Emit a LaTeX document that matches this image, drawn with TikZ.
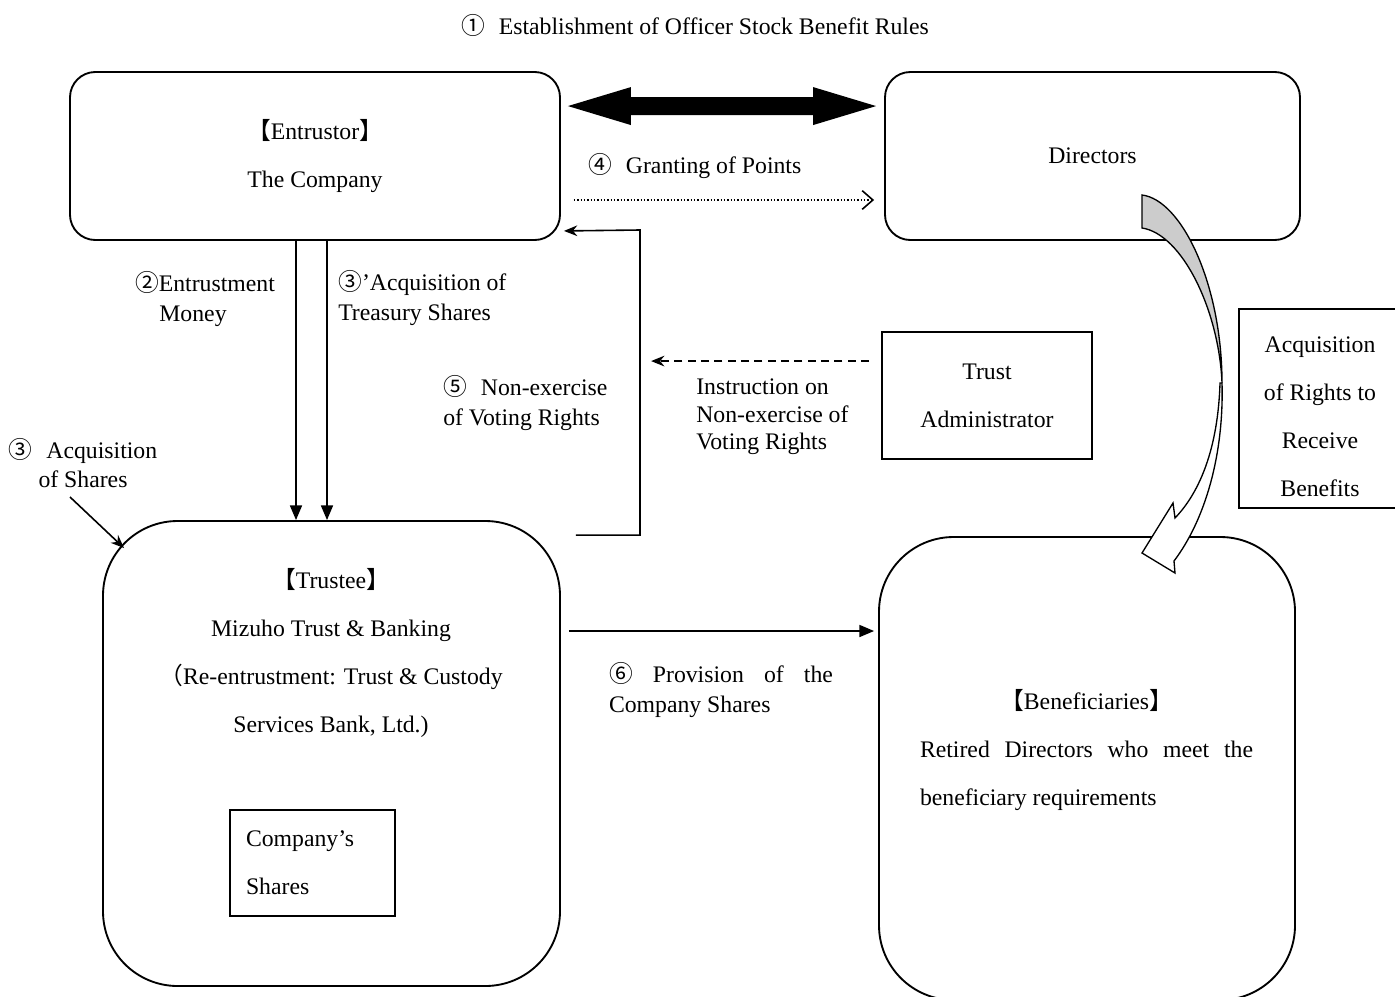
\documentclass[tikz,border=0pt]{standalone}
\usepackage{fontspec}
\setmainfont{Liberation Serif}
\newfontfamily\cjk{Noto Sans CJK JP}
\usetikzlibrary{arrows.meta,calc}
\newcommand\cgap{\hspace{6pt}}
\begin{document}
\begin{tikzpicture}[x=0.75pt,y=-0.75pt,
  font=\fontsize{17.8}{22}\selectfont,
  rbox/.style={draw, line width=1.4pt, rounded corners=19pt, inner sep=0pt, align=center, font=\fontsize{17.8}{36}\selectfont},
  bigbox/.style={draw, line width=1.4pt, rounded corners=56pt, inner sep=0pt},
  sbox/.style={draw, line width=1.4pt, inner sep=0pt, font=\fontsize{17.8}{36}\selectfont},
  lbl/.style={inner sep=0pt, align=left},
  conn/.style={line width=1.2pt},
  tri/.style={-{Triangle[length=11pt,width=9pt]}},
  stl/.style={-{Stealth[length=10pt,width=8pt]}}
]
\useasboundingbox (0,0) rectangle (1395,996);

% boxes
\node[rbox, minimum width=367.5pt, minimum height=126pt] (ent) at (315,156)
  {{\cjk 【}Entrustor{\cjk 】}\\The Company};
\node[rbox, minimum width=311.25pt, minimum height=126pt] (dir) at (1092.5,156) {Directors};
\node[bigbox, minimum width=342.75pt, minimum height=348.75pt] (tru) at (331.5,753.5) {};
\node[bigbox, minimum width=312pt, minimum height=347.25pt] (ben) at (1087,768.5) {};
\node[sbox, text width=99.75pt, inner xsep=12pt, minimum height=79.5pt, align=left] (cs) at (312.5,863)
  {Company’s\\Shares};
\node[sbox, minimum width=157.5pt, minimum height=95.25pt, align=center] (tadm) at (987,395.5)
  {Trust\\Administrator};
\node[sbox, minimum width=123.75pt, minimum height=149.25pt] (acq) at (1321.5,408.5) {};
\node[inner sep=0pt, align=center, font=\fontsize{17.8}{36}\selectfont] (acqtxt) at (1320,417)
  {Acquisition\\of Rights to\\Receive\\Benefits};

% texts in big boxes
\node[inner sep=0pt, align=center, font=\fontsize{17.8}{36}\selectfont] (trtxt) at (331,653)
  {{\cjk 【}Trustee{\cjk 】}\\Mizuho Trust \& Banking\\{\cjk （}Re-entrustment: Trust \& Custody\\Services Bank, Ltd.)};
\node[inner sep=0pt, text width=249.75pt, align=justify, font=\fontsize{17.8}{36}\selectfont] (bentxt) at (1086.5,750)
  {{\centering{\cjk 【}Beneficiaries{\cjk 】}\par}Retired Directors who meet the\linebreak beneficiary requirements};

% labels
\node[inner sep=0pt] (title) at (695,25) {{\cjk ①}\cgap{} Establishment of Officer Stock Benefit Rules};
\node[lbl, anchor=west] (l4) at (588,166) {{\cjk ④}\cgap{} Granting of Points};
\node[lbl, align=center] (l2) at (205,299) {{\cjk ②}Entrustment\\Money\hspace*{18pt}};
\node[lbl, anchor=west] (l3p) at (338,298) {{\cjk ③}’Acquisition of\\Treasury Shares};
\node[lbl, anchor=west] (l5) at (443,403) {{\cjk ⑤}\cgap{} Non-exercise\\of Voting Rights};
\node[lbl, anchor=west, font=\fontsize{17.8}{20.6}\selectfont] (lins) at (696,417)
  {Instruction on\\Non-exercise of\\Voting Rights};
\node[lbl, align=center] (l3) at (83,463) {{\cjk ③}\cgap{} Acquisition\\of Shares};
\node[inner sep=0pt, text width=168pt, align=justify, font=\fontsize{17.8}{22.5}\selectfont] (l6) at (721,690)
  {{\cjk ⑥} Provision of the\linebreak Company Shares};

% big double arrow
\coordinate (L) at ($(ent.north east)+(7,35)$);
\coordinate (R) at ($(dir.north west)+(-8,35)$);
\fill (L) -- ++(63,-19) -- ++(0,10) -- ($(R)+(-63,-9)$) -- ++(0,-10) -- (R)
  -- ++(-63,19) -- ++(0,-10) -- ($(L)+(63,9)$) -- ++(0,10) -- cycle;

% dotted granting arrow
\draw[conn, dash pattern=on 1.1pt off 1.4pt, -{Straight Barb[length=8pt,width=14pt]}]
  ($(ent.east)+(13,44)$) -- ($(dir.west)+(-10,44)$);

% vertical arrows
\coordinate (xa) at (296,0);
\coordinate (xb) at (327,0);
\draw[conn, tri] (ent.south -| xa) -- (tru.north -| xa);
\draw[conn, tri] (ent.south -| xb) -- (tru.north -| xb);

% non-exercise return line
\coordinate (c5) at (640,230);
\draw[conn, stl] ($(tru.north east)+(15,15)$) -| (c5) -- ($(ent.south east)+(3,-10)$);

% instruction dashed arrow
\draw[conn, dash pattern=on 6pt off 4pt, stl] ($(tadm.north west)+(-12,30)$) -- ++(-218,0);

% acquisition of shares arrow
\coordinate (a3) at (70,497);
\draw[conn, stl] (a3) -- ($(tru.north west)+(22,28)$);

% provision arrow
\draw[conn, tri] ($(tru.east)+(8,-122.5)$) -- ($(ben.west)+(-4,-137.5)$);

% curved arrow (gray back part)
\filldraw[fill=gray!40, line width=1pt]
  (1142,195) .. controls (1182,200) and (1222,285) .. (1222,383)
  .. controls (1219,310) and (1182,234) .. (1142,228) -- cycle;
% white front part with head
\filldraw[fill=white, line width=1pt, line join=miter]
  (1220,383) .. controls (1218,448) and (1200,492) .. (1175,518)
  -- (1173,503) -- (1142,553) -- (1175,573) -- (1174,561)
  .. controls (1205,520) and (1224,455) .. (1222,383) -- cycle;
\end{tikzpicture}
\end{document}
